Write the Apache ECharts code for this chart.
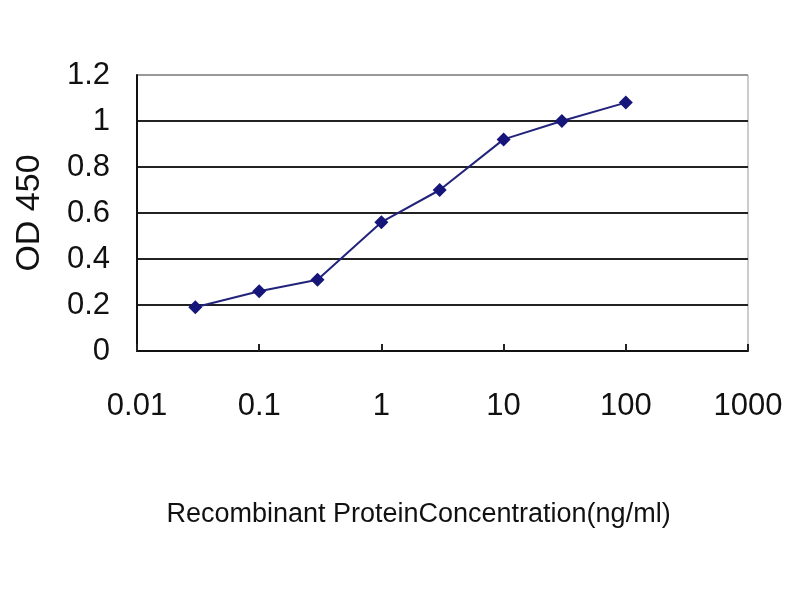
<!DOCTYPE html>
<html>
<head>
<meta charset="utf-8">
<script src="https://cdn.jsdelivr.net/npm/echarts@6/dist/echarts.min.js"></script>
<style>html,body{margin:0;padding:0;background:#fff}#c{width:800px;height:600px}</style>
</head>
<body>
<div id="c"></div>
<script>
const concentration = [0.03, 0.1, 0.3, 1, 3, 10, 30, 100];
const od450 = [0.19, 0.26, 0.31, 0.56, 0.70, 0.92, 1.00, 1.08];
const xTickLabels = ['0.01', '0.1', '1', '10', '100', '1000'];
const yTickLabels = ['0', '0.2', '0.4', '0.6', '0.8', '1', '1.2'];
const xTitle = 'Recombinant ProteinConcentration(ng/ml)';
const yTitle = 'OD 450';

const font = 'Liberation Sans, Arial, sans-serif';
const chart = echarts.init(document.getElementById('c'), null, {renderer: 'canvas'});
chart.setOption({
  backgroundColor: '#fff',
  animation: false,
  grid: {left: 137, right: 52, top: 75, bottom: 249, show: true, borderColor: '#999', borderWidth: 1},
  xAxis: {
    type: 'log', logBase: 10, min: 0.01, max: 1000,
    name: xTitle, nameLocation: 'middle', nameGap: 150,
    nameTextStyle: {fontFamily: font, fontSize: 27, color: '#111', padding: [0, 48, 0, 0]},
    axisLine: {lineStyle: {color: '#111', width: 2}},
    axisTick: {show: true, inside: true, length: 7, lineStyle: {color: '#222', width: 2}},
    minorTick: {show: false},
    splitLine: {show: false},
    axisLabel: {
      fontFamily: font, fontSize: 31, color: '#111', margin: 40,
      formatter: (v, i) => xTickLabels[i]
    }
  },
  yAxis: {
    type: 'value', min: 0, max: 1.2, interval: 0.2,
    name: yTitle, nameLocation: 'middle', nameGap: 90, nameRotate: 90,
    nameTextStyle: {fontFamily: font, fontSize: 34, color: '#111'},
    axisLine: {show: true, lineStyle: {color: '#111', width: 2}},
    axisTick: {show: false},
    splitLine: {show: true, lineStyle: {color: ['#222', '#222', '#222', '#222', '#222', '#222', '#999'], width: 2}},
    axisLabel: {
      fontFamily: font, fontSize: 31, color: '#111', margin: 27,
      formatter: (v, i) => yTickLabels[i]
    }
  },
  series: [{
    type: 'line',
    data: concentration.map((c, i) => [c, od450[i]]),
    symbol: 'diamond', symbolSize: 14,
    lineStyle: {color: '#22237a', width: 2},
    itemStyle: {color: '#15157a'}
  }]
});
</script>
</body>
</html>
